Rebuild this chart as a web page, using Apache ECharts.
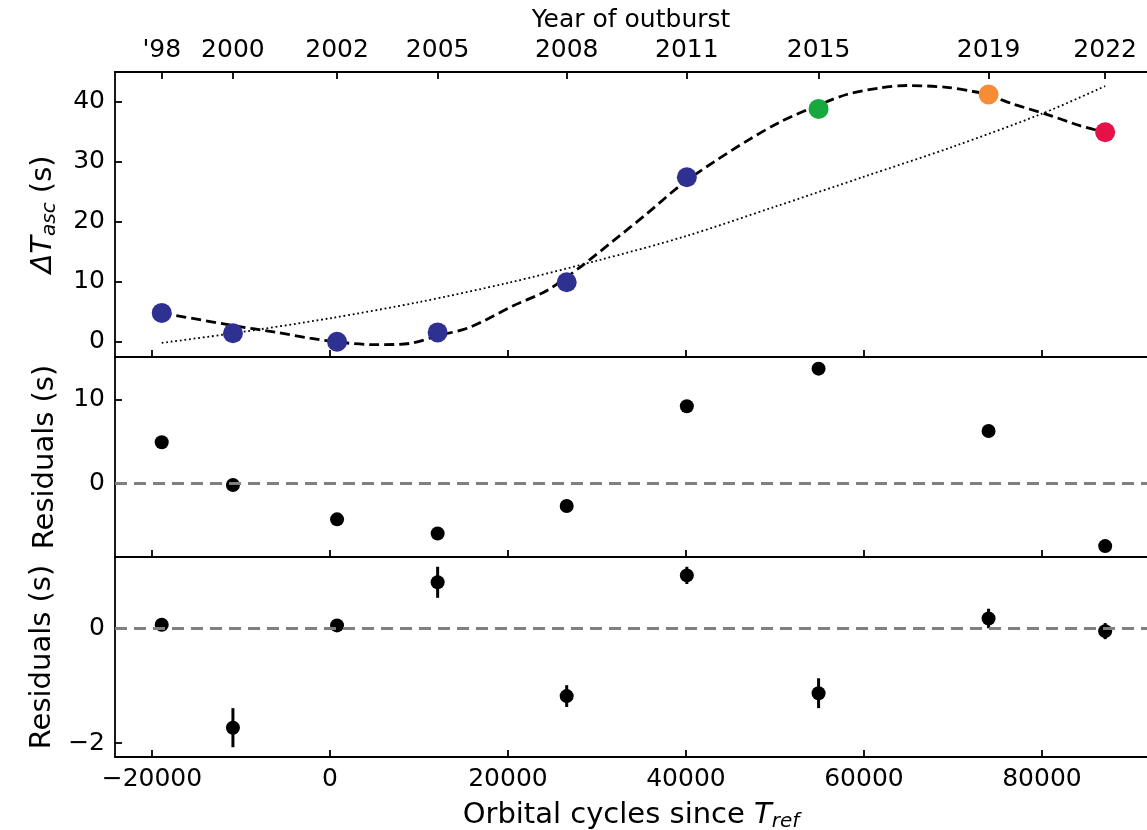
<!DOCTYPE html>
<html>
<head>
<meta charset="utf-8">
<script src="https://cdn.jsdelivr.net/npm/echarts@6/dist/echarts.min.js"></script>
<style>
html,body{margin:0;padding:0;background:#fff;}
#chart{width:1147px;height:830px;}
</style>
</head>
<body>
<div id="chart"></div>
<script>
// ---------------- data ----------------
const OUTBURST_CYCLES = [-18900, -10900, 800, 12100, 26600, 40100, 54900, 74000, 87100];
const YEAR_LABELS = ["'98", "2000", "2002", "2005", "2008", "2011", "2015", "2019", "2022"];
const DELTA_T = [4.8, 1.4, 0.0, 1.55, 9.9, 27.4, 38.8, 41.2, 34.9];
const RESID_LINEAR = [4.9, -0.2, -4.3, -6.0, -2.7, 9.2, 13.7, 6.25, -7.5];
const RESID_MODEL = [0.06, -1.73, 0.05, 0.80, -1.18, 0.92, -1.13, 0.17, -0.05];
const RESID_MODEL_ERR = [0.10, 0.34, 0.10, 0.27, 0.19, 0.15, 0.26, 0.17, 0.14];

// dashed model curve
const FIT_X = [-18900, -10900, -6000, -2250, 1500, 5250, 9000, 12140, 15730, 20600, 24350, 28090, 31830, 35580, 39330, 43070, 47000, 50560, 55000, 58060, 61800, 64800, 69290, 72280, 74000, 76780, 80530, 84270, 87100];
const FIT_Y = [4.8, 2.7, 1.55, 0.6, -0.17, -0.5, -0.28, 1.0, 2.4, 6.0, 8.5, 12.4, 16.8, 21.3, 26.0, 29.9, 33.6, 36.6, 39.5, 41.2, 42.3, 42.7, 42.4, 41.7, 41.1, 39.6, 37.9, 36.0, 34.9];

// dotted curve
const TREND_X = [-18900, -10900, 0, 10000, 20000, 30000, 40000, 50000, 60000, 70000, 80000, 87100];
const TREND_Y = [-0.2, 1.4, 3.9, 6.6, 9.8, 13.5, 17.6, 22.5, 27.5, 32.5, 38.0, 42.6];

const X_TICKS = [-20000, 0, 20000, 40000, 60000, 80000];
const Y_TICKS_TOP = [0, 10, 20, 30, 40];
const Y_TICKS_MID = [0, 10];
const Y_TICKS_BOT = [-2, 0];

// ---------------- styles ----------------
const POINT_COLORS = ['#2e3192', '#2e3192', '#2e3192', '#2e3192', '#2e3192', '#2e3192', '#17a83e', '#f78c36', '#e5124a'];
const FONT = 'DejaVu Sans';
const TICK_FS = 25, TITLE_FS = 29, SUB_FS = 20;
const XMIN = -24150, XMAX = 91800;

const pairs = (xs, ys) => xs.map((x, i) => [x, ys[i]]);
const minus = v => String(v).replace('-', '\u2212');

const axisLineStyle = { show: true, onZero: false, lineStyle: { color: '#000', width: 1.8 } };
const tickStyle = (vals) => ({ show: true, inside: true, length: 7, customValues: vals, lineStyle: { color: '#000', width: 1.8 } });
const labelStyle = (vals, extra) => Object.assign({ show: true, customValues: vals, color: '#000', fontSize: TICK_FS, fontFamily: FONT, formatter: v => minus(v) }, extra || {});

const richTitle = {
  it: { fontStyle: 'italic', fontSize: TITLE_FS, fontFamily: FONT, color: '#000' },
  sub: { fontStyle: 'italic', fontSize: SUB_FS, fontFamily: FONT, color: '#000', padding: [14, 0, 0, 0] },
  n: { fontSize: TITLE_FS, fontFamily: FONT, color: '#000' }
};

const grids = [
  { left: 115, right: 0, top: 72, height: 285, outerBoundsMode: 'none', containLabel: false },
  { left: 115, right: 0, top: 357, height: 200, outerBoundsMode: 'none', containLabel: false },
  { left: 115, right: 0, top: 557, height: 200, outerBoundsMode: 'none', containLabel: false }
];

const xAxes = [
  { gridIndex: 0, type: 'value', min: XMIN, max: XMAX, position: 'bottom', axisLine: axisLineStyle, axisTick: tickStyle(X_TICKS), axisLabel: { show: false }, splitLine: { show: false } },
  { gridIndex: 0, type: 'value', min: XMIN, max: XMAX, position: 'top', axisLine: axisLineStyle, axisTick: tickStyle(OUTBURST_CYCLES),
    axisLabel: labelStyle(OUTBURST_CYCLES, { margin: 9, formatter: v => YEAR_LABELS[OUTBURST_CYCLES.indexOf(v)] }),
    splitLine: { show: false },
    name: 'Year of outburst', nameLocation: 'middle', nameGap: 39, nameTextStyle: { color: '#000', fontSize: TICK_FS, fontFamily: FONT } },
  { gridIndex: 1, type: 'value', min: XMIN, max: XMAX, position: 'bottom', axisLine: axisLineStyle, axisTick: tickStyle(X_TICKS), axisLabel: { show: false }, splitLine: { show: false } },
  { gridIndex: 2, type: 'value', min: XMIN, max: XMAX, position: 'bottom', axisLine: axisLineStyle, axisTick: tickStyle(X_TICKS),
    axisLabel: labelStyle(X_TICKS, { margin: 10 }), splitLine: { show: false },
    name: '{n|Orbital cycles since }{it|T}{sub|ref}', nameLocation: 'middle', nameGap: 41,
    nameTextStyle: { color: '#000', fontSize: TITLE_FS, fontFamily: FONT, rich: richTitle } }
];

const yName = (txt) => ({
  name: txt, nameLocation: 'middle', nameGap: 55, nameRotate: 90,
  nameTextStyle: { color: '#000', fontSize: TITLE_FS, fontFamily: FONT, rich: richTitle }
});

const yAxes = [
  Object.assign({ gridIndex: 0, type: 'value', min: -2.55, max: 44.95, axisLine: axisLineStyle, axisTick: tickStyle(Y_TICKS_TOP), axisLabel: labelStyle(Y_TICKS_TOP, { margin: 10 }), splitLine: { show: false } },
    yName('{it|\u0394T}{sub|asc}{n| (s)}')),
  Object.assign({ gridIndex: 1, type: 'value', min: -8.8, max: 15.09, axisLine: axisLineStyle, axisTick: tickStyle(Y_TICKS_MID), axisLabel: labelStyle(Y_TICKS_MID, { margin: 10 }), splitLine: { show: false } },
    yName('Residuals (s)')),
  Object.assign({ gridIndex: 2, type: 'value', min: -2.24, max: 1.24, axisLine: axisLineStyle, axisTick: tickStyle(Y_TICKS_BOT), axisLabel: labelStyle(Y_TICKS_BOT, { margin: 10 }), splitLine: { show: false } },
    yName('Residuals (s)'))
];

const zeroLine = {
  silent: true, symbol: 'none', label: { show: false },
  lineStyle: { color: '#808080', width: 3, type: [12, 7] },
  data: [{ yAxis: 0 }]
};

const series = [
  { type: 'line', xAxisIndex: 0, yAxisIndex: 0, data: pairs(TREND_X, TREND_Y), smooth: 0.3, showSymbol: false, silent: true,
    lineStyle: { color: '#000', width: 1.8, type: [1.8, 2.8] }, z: 2 },
  { type: 'line', xAxisIndex: 0, yAxisIndex: 0, data: pairs(FIT_X, FIT_Y), smooth: 0.3, showSymbol: false, silent: true,
    lineStyle: { color: '#000', width: 2.8, type: [10, 5] }, z: 3 },
  { type: 'scatter', xAxisIndex: 0, yAxisIndex: 0, data: pairs(OUTBURST_CYCLES, DELTA_T), symbolSize: 20, z: 4,
    itemStyle: { opacity: 1, color: p => POINT_COLORS[p.dataIndex] } },
  { type: 'scatter', xAxisIndex: 2, yAxisIndex: 1, data: pairs(OUTBURST_CYCLES, RESID_LINEAR), symbolSize: 14, z: 4,
    itemStyle: { color: '#000', opacity: 1 }, markLine: zeroLine },
  { type: 'custom', xAxisIndex: 3, yAxisIndex: 2, z: 3,
    data: OUTBURST_CYCLES.map((x, i) => [x, RESID_MODEL[i], RESID_MODEL_ERR[i]]),
    renderItem: (params, api) => {
      const x = api.value(0), y = api.value(1), e = api.value(2);
      const p1 = api.coord([x, y - e]);
      const p2 = api.coord([x, y + e]);
      return { type: 'line', shape: { x1: p1[0], y1: p1[1], x2: p2[0], y2: p2[1] }, style: { stroke: '#000', lineWidth: 3 } };
    } },
  { type: 'scatter', xAxisIndex: 3, yAxisIndex: 2, data: pairs(OUTBURST_CYCLES, RESID_MODEL), symbolSize: 14, z: 4,
    itemStyle: { color: '#000', opacity: 1 }, markLine: zeroLine }
];

const chart = echarts.init(document.getElementById('chart'), null, { renderer: 'canvas' });
chart.setOption({
  animation: false,
  backgroundColor: '#fff',
  textStyle: { fontFamily: FONT },
  grid: grids,
  xAxis: xAxes,
  yAxis: yAxes,
  series: series
});
</script>
</body>
</html>
